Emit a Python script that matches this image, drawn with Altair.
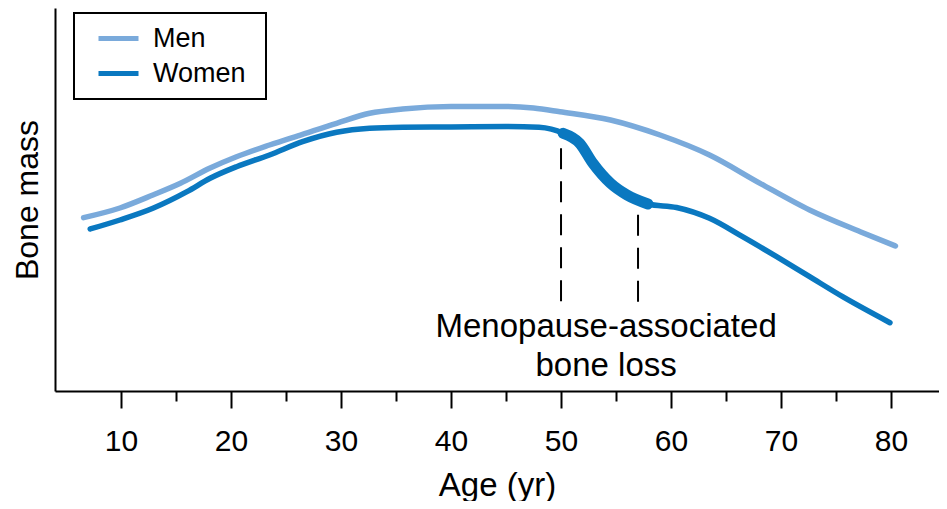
import altair as alt
import pandas as pd

# ---- data ----
series_names = ["Men", "Women"]
series_colors = ["#7aaadb", "#0a78c0"]

men_age = [6.6, 9.9, 12.9, 15.4, 18.1, 20.5, 23.5, 26.5, 29.6, 32.6, 35.6, 40, 45, 47.5, 49.9,
           54.5, 59.0, 63.5, 68.1, 72.6, 77.2, 80.4]
men_mass = [45.25, 47.78, 51.17, 54.23, 58.22, 61.17, 64.23, 67.02, 69.90, 72.51, 73.63, 74.28, 74.28,
            73.89, 72.92, 70.76, 66.84, 61.62, 54.23, 47.26, 41.59, 37.86]

women_age = [7.2, 9.9, 12.9, 16.0, 18.1, 20.5, 23.5, 26.5, 29.6, 32.6, 35.6, 40, 45, 48, 50.2,
             51.7, 52.9, 54.5, 56.0, 57.9, 60.5, 63.5, 66.5, 69.6, 72.6, 75.6, 79.9]
women_mass = [42.30, 44.65, 47.70, 52.04, 55.54, 58.56, 61.62, 65.09, 67.55, 68.59, 68.85, 68.93, 69.06,
              68.85, 67.28, 64.67, 59.45, 54.23, 51.17, 48.83, 47.91, 45.09, 40.29, 35.07, 29.84,
              24.62, 17.83]

loss_range = [50.2, 57.9]        # menopause-associated (thick) segment

dash_age = [50, 57]
dash_top = [63.4, 46.0]
dash_bottom = [23.2, 23.2]

label_age = [54.1]
label_mass = [14.1]
label_text = ["Menopause-associated\nbone loss"]

x_major = [10, 20, 30, 40, 50, 60, 70, 80]
x_minor = [15, 25, 35, 45, 55, 65, 75]
x_domain = [4, 84.36]
y_domain = [0, 100]

FONT = "Liberation Sans"

# ---- tables ----
lines_df = pd.DataFrame({
    "age": men_age + women_age,
    "mass": men_mass + women_mass,
    "sex": ["Men"] * len(men_age) + ["Women"] * len(women_age),
})
loss_df = pd.DataFrame({"age": women_age, "mass": women_mass})
loss_df = loss_df[(loss_df.age >= loss_range[0]) & (loss_df.age <= loss_range[1])]
dash_df = pd.DataFrame({"age": dash_age, "top": dash_top, "bottom": dash_bottom})
label_df = pd.DataFrame({"age": label_age, "mass": label_mass, "text": label_text})

x_scale = alt.Scale(domain=x_domain, nice=False, zero=False)
y_scale = alt.Scale(domain=y_domain, nice=False, zero=False)

major_axis = alt.Axis(
    orient="bottom", values=x_major, grid=False,
    domainColor="black", domainWidth=2,
    tickColor="black", tickWidth=2, tickSize=17,
    labelFont=FONT, labelFontSize=30, labelColor="black", labelPadding=18, labelFlush=False,
    title="Age (yr)", titleFont=FONT, titleFontSize=33, titleFontWeight="normal",
    titleColor="black", titleBaseline="alphabetic", titleY=104,
)
minor_axis = alt.Axis(
    orient="bottom", values=x_minor, grid=False, domain=False, labels=False,
    tickColor="black", tickWidth=2, tickSize=10, title=None,
)
y_axis = alt.Axis(
    orient="left", grid=False, ticks=False, labels=False,
    domainColor="black", domainWidth=2,
    title="Bone mass", titleFont=FONT, titleFontSize=32, titleFontWeight="normal",
    titleColor="black", titleBaseline="alphabetic", titleX=-18,
)
legend = alt.Legend(
    title=None, orient="none", legendX=19, legendY=5, direction="vertical",
    symbolType="stroke", symbolSize=1600, symbolStrokeWidth=5,
    labelFont=FONT, labelFontSize=27, labelColor="black",
    labelExpr="datum.label + ' \u200b'",
    labelOffset=12, symbolOffset=10, padding=12, rowPadding=7, clipHeight=27,
    strokeColor="black", fillColor="white",
)

lines = alt.Chart(lines_df).mark_line(
    strokeWidth=5.5, strokeCap="round", interpolate="monotone"
).encode(
    x=alt.X("age:Q", scale=x_scale, axis=major_axis),
    y=alt.Y("mass:Q", scale=y_scale, axis=y_axis),
    color=alt.Color("sex:N", scale=alt.Scale(domain=series_names, range=series_colors), legend=legend),
)

thick = alt.Chart(loss_df).mark_line(
    strokeWidth=11, strokeCap="round", interpolate="monotone", color=series_colors[1]
).encode(
    x=alt.X("age:Q", scale=x_scale, axis=None),
    y=alt.Y("mass:Q", scale=y_scale, axis=y_axis),
)

rules = alt.Chart(dash_df).mark_rule(
    strokeDash=[21, 12], strokeWidth=2, color="black"
).encode(
    x=alt.X("age:Q", scale=x_scale, axis=minor_axis),
    y=alt.Y("top:Q", scale=y_scale, axis=y_axis),
    y2="bottom:Q",
)

label = alt.Chart(label_df).mark_text(
    align="center", baseline="alphabetic", font=FONT, fontSize=33,
    lineBreak="\n", lineHeight=39, color="black",
).encode(
    x=alt.X("age:Q", scale=x_scale, axis=None),
    y=alt.Y("mass:Q", scale=y_scale, axis=y_axis),
    text="text:N",
)

chart = alt.layer(lines, thick, rules, label).resolve_axis(x="independent").properties(
    width=884, height=383,
    padding={"left": 47, "top": 0, "right": 0, "bottom": 110},
    autosize=alt.AutoSizeParams(type="none"),
).configure_view(stroke=None).configure_legend(strokeWidth=2)

chart.save("out.html", embed_options={"renderer": "svg", "actions": False})
